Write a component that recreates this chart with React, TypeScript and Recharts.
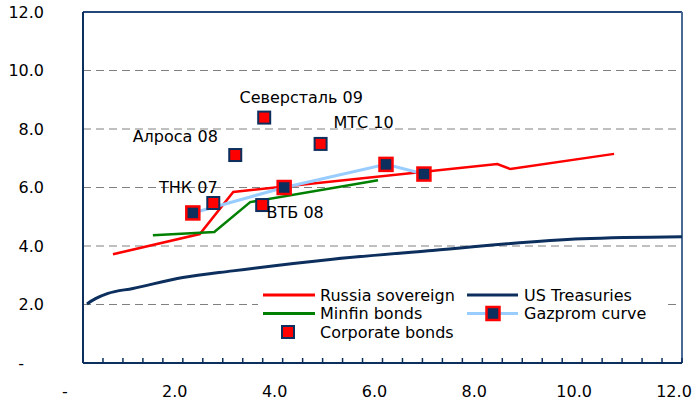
import React from 'react';
import { ComposedChart, Line, Scatter, XAxis, YAxis, CartesianGrid, ReferenceLine, Legend } from 'recharts';

// yield (%) against maturity (years)
const russiaSovereign = [
  { x: 0.6, y: 3.72 },
  { x: 2.34, y: 4.41 },
  { x: 3.01, y: 5.85 },
  { x: 8.3, y: 6.8 },
  { x: 8.56, y: 6.63 },
  { x: 10.64, y: 7.15 },
];

const usTreasuries = [
  { x: 0.08, y: 2.02 },
  { x: 0.25, y: 2.2 },
  { x: 0.5, y: 2.38 },
  { x: 1, y: 2.55 },
  { x: 2, y: 2.92 },
  { x: 3, y: 3.15 },
  { x: 5, y: 3.55 },
  { x: 7, y: 3.85 },
  { x: 10, y: 4.25 },
  { x: 12, y: 4.32 },
];

const minfinBonds = [
  { x: 1.4, y: 4.37 },
  { x: 2.63, y: 4.48 },
  { x: 3.35, y: 5.5 },
  { x: 5.91, y: 6.25 },
];

const gazpromCurve = [
  { x: 2.2, y: 5.13 },
  { x: 4.03, y: 6.0 },
  { x: 6.07, y: 6.79 },
  { x: 6.83, y: 6.46 },
];

const corporateBonds = [
  { name: 'ТНК 07', x: 2.61, y: 5.47 },
  { name: 'Алроса 08', x: 3.05, y: 7.11 },
  { name: 'Северсталь 09', x: 3.63, y: 8.39 },
  { name: 'ВТБ 08', x: 3.59, y: 5.4 },
  { name: 'МТС 10', x: 4.76, y: 7.49 },
];

const yTicks = [0, 2, 4, 6, 8, 10, 12];
const xLabelTicks = [0, 2, 4, 6, 8, 10, 12];
const xMinorTicks = [
  0, 0.4, 0.8, 1.2, 1.6, 2, 2.4, 2.8, 3.2, 3.6, 4, 4.4, 4.8, 5.2, 5.6, 6,
  6.4, 6.8, 7.2, 7.6, 8, 8.4, 8.8, 9.2, 9.6, 10, 10.4, 10.8, 11.2, 11.6, 12,
];

const NAVY = '#0c2f5e';
const RED = '#ff0000';
const GREEN = '#008000';
const LIGHT_BLUE = '#99ccff';
const FONT = "'DejaVu Sans', Verdana, sans-serif";

// where each bond name sits relative to its marker
const labelOffsets: Record<string, [number, number]> = {
  'ТНК 07': [-25, -16],
  'Алроса 08': [-60, -19],
  'Северсталь 09': [37, -20],
  'ВТБ 08': [33, 7],
  'МТС 10': [43, -21],
};

const fmt = (v: number) => (v === 0 ? '-' : v.toFixed(1));

const XTick = ({ x, y, payload }: any) => {
  const v = payload.value;
  const isLabel = xLabelTicks.some((t) => Math.abs(t - v) < 1e-6);
  return (
    <g>
      <line x1={x} x2={x} y1={y} y2={y - 5} stroke={NAVY} strokeWidth={1.5} />
      {isLabel && (
        <text
          x={v === 0 ? x - 18 : x - 8}
          y={y + 28}
          textAnchor="middle"
          dominantBaseline="central"
          fontSize={16}
          fontFamily={FONT}
          fill="#000"
        >
          {fmt(Math.round(v))}
        </text>
      )}
    </g>
  );
};

const YTick = ({ x, y, payload }: any) => {
  const v = payload.value;
  return (
    <text
      x={v === 0 ? x - 59 : x - 39}
      y={y}
      textAnchor="end"
      dominantBaseline="central"
      fontSize={16}
      fontFamily={FONT}
      fill="#000"
    >
      {fmt(v)}
    </text>
  );
};

const GazpromDot = ({ cx, cy }: any) => (
  <rect x={cx - 6.5} y={cy - 6.5} width={13} height={13} fill={NAVY} stroke={RED} strokeWidth={2.5} />
);

const CorporateShape = ({ cx, cy, payload }: any) => {
  const [dx, dy] = labelOffsets[payload.name] || [0, -18];
  return (
    <g>
      <rect x={cx - 6} y={cy - 6} width={12} height={12} fill={RED} stroke={NAVY} strokeWidth={2} />
      <text
        x={cx + dx}
        y={cy + dy}
        textAnchor="middle"
        dominantBaseline="central"
        fontSize={16}
        fontFamily={FONT}
        fill="#000"
      >
        {payload.name}
      </text>
    </g>
  );
};

const ChartLegend = () => {
  const textProps = { fontSize: 16, fontFamily: FONT, fill: '#000', dominantBaseline: 'central' as const };
  return (
    <svg width={406} height={58}>
      <line x1={5} x2={57} y1={11} y2={11} stroke={RED} strokeWidth={3} />
      <text x={62} y={11} {...textProps}>Russia sovereign</text>
      <line x1={209} x2={260} y1={11} y2={11} stroke={NAVY} strokeWidth={3} />
      <text x={266} y={11} {...textProps}>US Treasuries</text>

      <line x1={5} x2={57} y1={29.5} y2={29.5} stroke={GREEN} strokeWidth={3} />
      <text x={62} y={29.5} {...textProps}>Minfin bonds</text>
      <line x1={209} x2={260} y1={29.5} y2={29.5} stroke={LIGHT_BLUE} strokeWidth={3} />
      <GazpromDot cx={235} cy={29.5} />
      <text x={266} y={29.5} {...textProps}>Gazprom curve</text>

      <CorporateShape cx={30} cy={48} payload={{ name: '' }} />
      <text x={62} y={48} {...textProps}>Corporate bonds</text>
    </svg>
  );
};

export default function App() {
  return (
    <div style={{ position: 'absolute', left: 0, top: 0, background: '#fff' }}>
      <ComposedChart width={700} height={400} margin={{ top: 12, right: 18, left: 0, bottom: 0 }}>
        <CartesianGrid vertical={false} stroke="#808080" strokeDasharray="8 5" />
        <XAxis
          type="number"
          dataKey="x"
          domain={[0, 12]}
          ticks={xMinorTicks}
          interval={0}
          height={37}
          tickSize={0}
          tickMargin={0}
          tick={<XTick />}
          axisLine={{ stroke: NAVY, strokeWidth: 2 }}
          allowDataOverflow
        />
        <YAxis
          type="number"
          domain={[0, 12]}
          ticks={yTicks}
          interval={0}
          width={83}
          tickSize={0}
          tickMargin={0}
          tick={<YTick />}
          axisLine={{ stroke: NAVY, strokeWidth: 2 }}
          allowDataOverflow
        />
        <ReferenceLine y={12} stroke="#24477a" strokeWidth={2} />
        <ReferenceLine x={12} stroke="#4a6a96" strokeWidth={2} />
        <Line data={russiaSovereign} dataKey="y" type="linear" stroke={RED} strokeWidth={2.5} dot={false} isAnimationActive={false} />
        <Line data={usTreasuries} dataKey="y" type="monotone" stroke={NAVY} strokeWidth={3} dot={false} isAnimationActive={false} />
        <Line data={minfinBonds} dataKey="y" type="linear" stroke={GREEN} strokeWidth={2.5} dot={false} isAnimationActive={false} />
        <Line
          data={gazpromCurve}
          dataKey="y"
          type="linear"
          stroke={LIGHT_BLUE}
          strokeWidth={3}
          dot={<GazpromDot />}
          activeDot={false}
          isAnimationActive={false}
        />
        <Scatter data={corporateBonds} dataKey="y" shape={<CorporateShape />} isAnimationActive={false} />
        <Legend
          layout="horizontal"
          verticalAlign="middle"
          content={() => <ChartLegend />}
          wrapperStyle={{ position: 'absolute', left: 258, top: 284, width: 406, height: 58, background: '#fff' }}
        />
      </ComposedChart>
    </div>
  );
}
